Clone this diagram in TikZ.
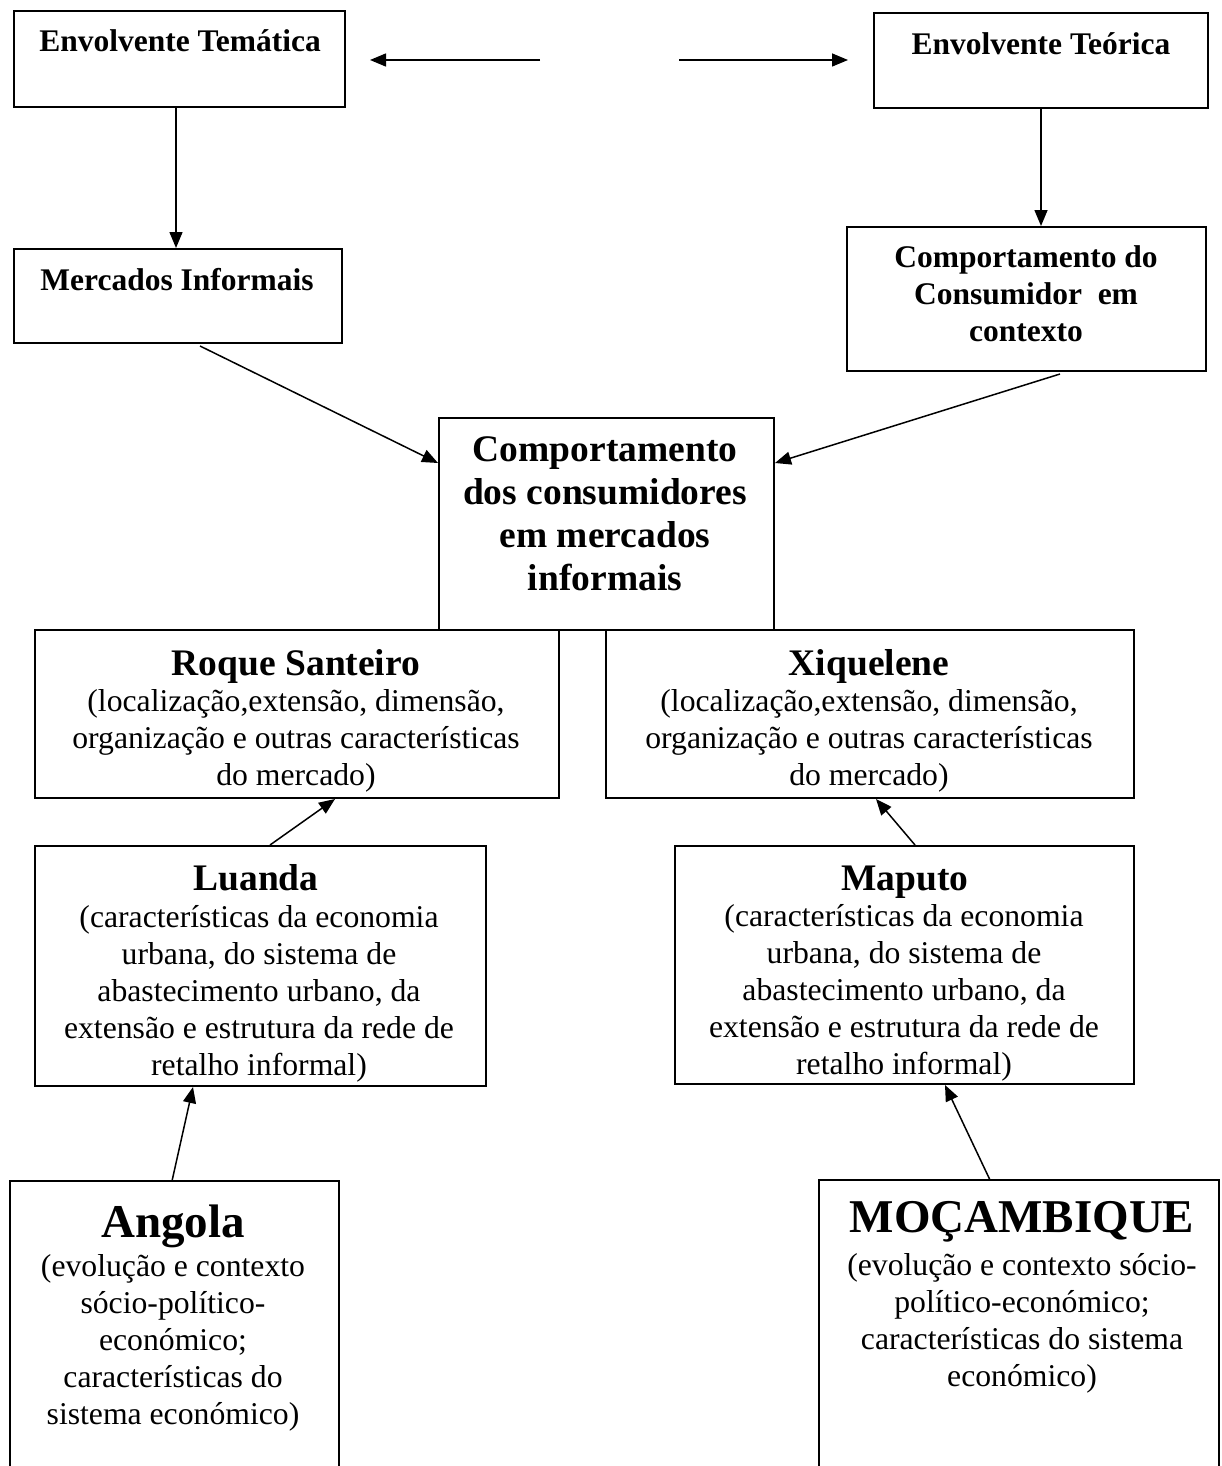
\documentclass[tikz,border=0pt]{standalone}
\usepackage{fontspec}
\setmainfont{Liberation Serif}
\usetikzlibrary{arrows.meta,calc}
\tikzset{
  box/.style={draw, line width=2pt, inner sep=0pt, anchor=north west},
  openbox/.style={inner sep=0pt, anchor=north west},
  arr/.style={-{Triangle[length=16pt,width=13pt]}, line width=1.5pt},
  smalltitle/.style={inner sep=0pt, align=center, font=\bfseries\fontsize{31.5}{37}\selectfont},
  bigtitle/.style={inner sep=0pt, align=center, font=\bfseries\fontsize{37.5}{43}\selectfont},
  huge title/.style={inner sep=0pt, align=center, font=\bfseries\fontsize{47}{52}\selectfont},
  body/.style={inner sep=0pt, align=center, font=\fontsize{31.7}{37}\selectfont},
}
\begin{document}
\begin{tikzpicture}[x=1pt,y=-1pt]
\useasboundingbox (0,0) rectangle (1221,1466);

% boxes
\node[box, minimum width=331pt, minimum height=96pt] (et) at (13,10) {};
\node[box, minimum width=334pt, minimum height=95pt] (eo) at (873,12) {};
\node[box, minimum width=328pt, minimum height=94pt] (mi) at (13,248) {};
\node[box, minimum width=359pt, minimum height=144pt] (cc) at (846,226) {};
\node[box, minimum width=335pt, minimum height=212pt] (cb) at (438,417) {};
\node[box, minimum width=524pt, minimum height=168pt] (rs) at (34,629) {};
\node[box, minimum width=528pt, minimum height=168pt] (xq) at (605,629) {};
\node[box, minimum width=451pt, minimum height=240pt] (lu) at (34,845) {};
\node[box, minimum width=459pt, minimum height=238pt] (mp) at (674,845) {};
\node[openbox, minimum width=329pt, minimum height=286pt] (an) at (10,1181) {};
\node[openbox, minimum width=400pt, minimum height=287pt] (mz) at (819,1180) {};
\draw[line width=2pt] (an.south west) -- (an.north west) -- (an.north east) -- (an.south east);
\draw[line width=2pt] (mz.south west) -- (mz.north west) -- (mz.north east) -- (mz.south east);

% texts
\node[smalltitle] (tet) at (180,41) {Envolvente Temática};
\node[smalltitle] (teo) at (1041,44) {Envolvente Teórica};
\node[smalltitle] (tmi) at (177,280) {Mercados Informais};
\node[smalltitle] (tcc) at (1026,294) {Comportamento do\\Consumidor\ \ em\\contexto};
\node[bigtitle] (tcb) at (605,514) {Comportamento\\dos consumidores\\em mercados\\informais};

\node[bigtitle] (trs) at (296,666) {Roque Santeiro};
\node[body] (brs) at (296,741) {(localização,extensão, dimensão,\\organização e outras características\\do mercado)};
\node[bigtitle] (txq) at (869,666) {Xiquelene};
\node[body] (bxq) at (869,741) {(localização,extensão, dimensão,\\organização e outras características\\do mercado)};

\node[bigtitle] (tlu) at (256,878) {Luanda};
\node[body] (blu) at (259,994) {(características da economia\\urbana, do sistema de\\abastecimento urbano, da\\extensão e estrutura da rede de\\retalho informal)};
\node[bigtitle] (tmp) at (905,882) {Maputo};
\node[body] (bmp) at (904,993) {(características da economia\\urbana, do sistema de\\abastecimento urbano, da\\extensão e estrutura da rede de\\retalho informal)};

\node[huge title] (tan) at (173,1226) {Angola};
\node[body] (ban) at (173,1343) {(evolução e contexto\\sócio-político-\\económico;\\características do\\sistema económico)};
\node[huge title] (tmz) at (1022,1222) {MOÇAMBIQUE};
\node[body] (bmz) at (1022,1323) {(evolução e contexto sócio-\\político-económico;\\características do sistema\\económico)};

% connectors
\coordinate (la) at (540,60);
\coordinate (lb) at (370,60);
\coordinate (ra) at (679,60);
\coordinate (rb) at (848,60);
\draw[arr] (la) -- (lb);
\draw[arr] (ra) -- (rb);

\draw[arr] ($(et.south west)+(163,0)$) -- ($(mi.north west)+(163,0)$);
\draw[arr] ($(eo.south west)+(168,0)$) -- ($(cc.north west)+(195,0)$);
\draw[arr] ($(mi.south west)+(187,2)$) -- ($(cb.north west)+(0,46)$);
\draw[arr] ($(cc.south west)+(214,2)$) -- ($(cb.north east)+(0,46)$);
\draw[arr] ($(lu.north west)+(236,0)$) -- ($(rs.south west)+(301,0)$);
\draw[arr] ($(mp.north west)+(241,0)$) -- ($(xq.south west)+(271,0)$);
\draw[arr] ($(an.north west)+(162,0)$) -- ($(lu.south west)+(159,0)$);
\draw[arr] ($(mz.north west)+(171,0)$) -- ($(mp.south west)+(271,0)$);
\end{tikzpicture}
\end{document}
